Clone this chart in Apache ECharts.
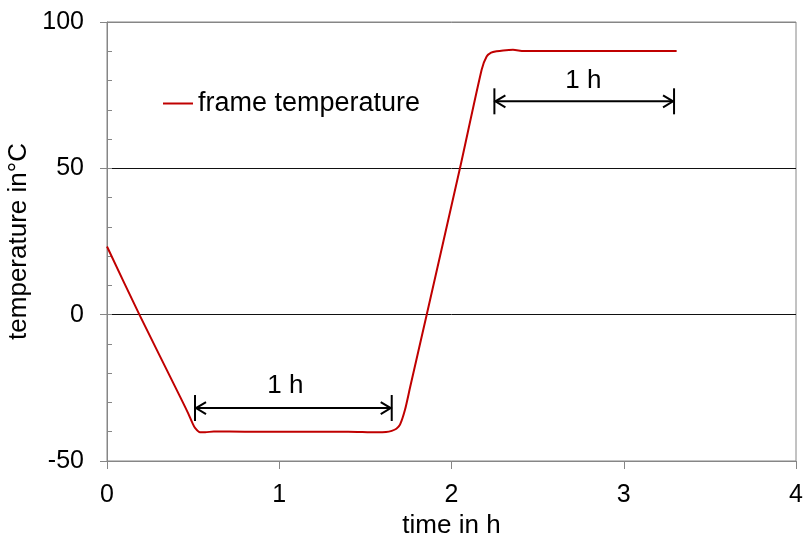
<!DOCTYPE html>
<html>
<head>
<meta charset="utf-8">
<script src="https://cdn.jsdelivr.net/npm/echarts@6/dist/echarts.min.js"></script>
<style>
html,body{margin:0;padding:0;background:#fff;}
#chart{width:803px;height:535px;}
</style>
</head>
<body>
<div id="chart"></div>
<script>
// ---- data ----
const seriesName = 'frame temperature';
const timeH = [0, 0.188, 0.424, 0.472, 0.495, 0.511, 0.54, 0.57, 0.62, 0.8, 1.0, 1.2, 1.4, 1.566, 1.62, 1.653, 1.68, 1.701, 1.730, 1.759, 1.856, 2.049, 2.175, 2.204, 2.23, 2.262, 2.30, 2.357, 2.42, 2.6, 3.0, 3.307];
const tempC = [23.3, 0, -28.0, -33.8, -36.9, -38.7, -40.2, -40.2, -39.9, -40, -40, -40, -40, -40.2, -40.1, -39.7, -39.0, -37.6, -32.5, -25.0, 0, 50, 83.7, 88.2, 89.5, 90.0, 90.3, 90.5, 90.1, 90.1, 90.1, 90.1];
const xTicks = [0, 1, 2, 3, 4];
const yTicks = [-50, 0, 50, 100];
// "1 h" duration markers
const arrowStart = [0.511, 2.249];
const arrowEnd = [1.653, 3.292];
const arrowLevel = [-31.9, 72.9];
const arrowLabel = ['1 h', '1 h'];
const labelX = [1.035, 2.765];
const labelLevel = [-24.4, 80.0];

// ---- chart ----
const FONT = '"Liberation Sans", Arial, sans-serif';
const GRAY = '#868686';
const lineData = timeH.map((t, i) => [t, tempC[i]]);
const arrowData = arrowStart.map((s, i) => [s, arrowEnd[i], arrowLevel[i], labelX[i], labelLevel[i]]);

const chart = echarts.init(document.getElementById('chart'), null, {renderer: 'canvas'});
chart.setOption({
  animation: false,
  backgroundColor: '#fff',
  grid: {left: 107, right: 7, top: 22, bottom: 74, containLabel: false, outerBoundsMode: 'none',
         show: true, borderColor: GRAY, borderWidth: 1, backgroundColor: 'transparent'},
  legend: {
    data: [seriesName], left: 163, top: 90, padding: 0, itemWidth: 30, itemHeight: 2, icon: 'rect',
    textStyle: {fontFamily: FONT, fontSize: 27, color: '#000', lineHeight: 27}
  },
  xAxis: {
    type: 'value', min: xTicks[0], max: xTicks[xTicks.length - 1], interval: 1,
    name: 'time in h', nameLocation: 'middle', nameGap: 50,
    nameTextStyle: {fontFamily: FONT, fontSize: 26, color: '#000'},
    axisLine: {show: true, onZero: false, lineStyle: {color: GRAY, width: 1}},
    axisTick: {show: true, inside: false, length: 8, lineStyle: {color: GRAY}},
    axisLabel: {fontFamily: FONT, fontSize: 25, color: '#000', margin: 22},
    splitLine: {show: false}
  },
  yAxis: [{
    type: 'value', min: yTicks[0], max: yTicks[yTicks.length - 1], interval: 50,
    name: 'temperature in°C', nameLocation: 'middle', nameGap: 65, nameRotate: 90,
    nameTextStyle: {fontFamily: FONT, fontSize: 26, color: '#000'},
    axisLine: {show: true, onZero: false, lineStyle: {color: GRAY, width: 1}},
    axisTick: {show: true, inside: false, length: 7, lineStyle: {color: GRAY}},
    axisLabel: {fontFamily: FONT, fontSize: 25, color: '#000', margin: 23},
    splitLine: {show: true, lineStyle: {color: [GRAY, '#111', '#111', GRAY], width: 1}}
  }, {
    type: 'value', position: 'left', min: yTicks[0], max: yTicks[yTicks.length - 1], interval: 10,
    axisLine: {show: false},
    axisTick: {show: true, inside: true, length: 5, lineStyle: {color: GRAY}},
    axisLabel: {show: false},
    splitLine: {show: false}
  }],
  series: [{
    name: seriesName, type: 'line', data: lineData, showSymbol: false, symbol: 'none',
    smooth: 0.25, lineStyle: {color: '#C00000', width: 2}, itemStyle: {color: '#C00000'}, z: 3
  }, {
    name: 'duration', type: 'custom', data: arrowData, silent: true, clip: false,
    encode: {x: [0, 1, 3], y: [2, 4]},
    renderItem: function (params, api) {
      const p1 = api.coord([api.value(0), api.value(2)]);
      const p2 = api.coord([api.value(1), api.value(2)]);
      const lab = api.coord([api.value(3), api.value(4)]);
      const h = 13, aw = 11, ah = 6;
      const st = {stroke: '#000', lineWidth: 2, fill: null};
      return {type: 'group', children: [
        {type: 'line', shape: {x1: p1[0], y1: p1[1], x2: p2[0], y2: p2[1]}, style: st},
        {type: 'line', shape: {x1: p1[0], y1: p1[1] - h, x2: p1[0], y2: p1[1] + h}, style: st},
        {type: 'line', shape: {x1: p2[0], y1: p2[1] - h, x2: p2[0], y2: p2[1] + h}, style: st},
        {type: 'polyline', shape: {points: [[p1[0] + aw, p1[1] - ah], [p1[0] + 1, p1[1]], [p1[0] + aw, p1[1] + ah]]}, style: st},
        {type: 'polyline', shape: {points: [[p2[0] - aw, p2[1] - ah], [p2[0] - 1, p2[1]], [p2[0] - aw, p2[1] + ah]]}, style: st},
        {type: 'text', x: lab[0], y: lab[1], style: {text: arrowLabel[params.dataIndex], fontSize: 26, fontFamily: FONT, fill: '#000', align: 'center', verticalAlign: 'middle'}}
      ]};
    },
    z: 4
  }]
});
</script>
</body>
</html>
